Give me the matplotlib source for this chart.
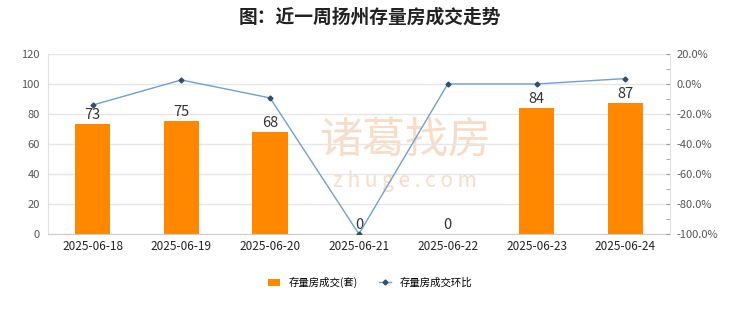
import numpy as np
import matplotlib.pyplot as plt
from matplotlib.ticker import MultipleLocator, FuncFormatter

plt.rcParams['font.family'] = ['Noto Sans CJK SC', 'DejaVu Sans']

dates = ['2025-06-18', '2025-06-19', '2025-06-20', '2025-06-21',
         '2025-06-22', '2025-06-23', '2025-06-24']
deals = [73, 75, 68, 0, 0, 84, 87]
ratio = [-14.1, 2.7, -9.3, -100.0, 0.0, 0.0, 3.6]


def main():
	fig = plt.figure(figsize=(7.4, 3.12), dpi=100)
	ax = fig.add_axes([0.065, 0.25, 0.84, 0.577])
	x = np.arange(len(dates))

	ax.bar(x, deals, width=0.4, color='#FF8800', zorder=2, label='存量房成交(套)')
	for xi, v in zip(x, deals):
		ax.text(xi, v + 1.5, str(v), ha='center', va='bottom', fontsize=10.5, color='#333333', zorder=5)

	ax.set_ylim(0, 120)
	ax.set_xlim(-0.5, len(dates) - 0.5)
	ax.yaxis.set_major_locator(MultipleLocator(20))
	ax.grid(axis='y', color='#e6e6e6', linewidth=1, zorder=0)
	ax.set_xticks(x)
	ax.set_xticklabels(dates)
	ax.tick_params(axis='x', length=0, labelsize=8.5, colors='#222222', pad=4)
	ax.tick_params(axis='y', length=0, labelsize=8, colors='#555555', pad=6)
	for s in ['top', 'right']:
		ax.spines[s].set_visible(False)
	ax.spines['left'].set_color('#e0e0e0')
	ax.spines['bottom'].set_color('#cccccc')

	# watermark, behind the bars
	ax.text(0.547, 0.548, '诸葛找房', transform=fig.transFigure, ha='center', va='center',
		fontsize=31, color='#f9dcc6', zorder=1)
	ax.text(0.547, 0.42, 'z h u g e . c o m', transform=fig.transFigure, ha='center', va='center',
		fontsize=15, color='#f9dcc6', zorder=1)

	ax2 = ax.twinx()
	ax2.plot(x, ratio, color='#6fa0d0', linewidth=1, marker='D', markersize=2.5,
		markerfacecolor='#2f4f6f', markeredgecolor='#2f4f6f', zorder=4, label='存量房成交环比')
	ax2.set_ylim(-100, 20)
	ax2.yaxis.set_major_locator(MultipleLocator(20))
	ax2.yaxis.set_minor_locator(MultipleLocator(10))
	ax2.yaxis.set_major_formatter(FuncFormatter(lambda v, p: '%.1f%%' % v))
	ax2.tick_params(axis='y', which='both', direction='in', length=3, color='#999999',
		labelsize=8, labelcolor='#555555', pad=5)
	for s in ['top', 'left', 'bottom']:
		ax2.spines[s].set_visible(False)
	ax2.spines['right'].set_color('#e0e0e0')

	fig.suptitle('图：近一周扬州存量房成交走势', x=0.5, y=0.975, fontsize=13.5,
		fontweight='bold', color='#222222')

	h1, l1 = ax.get_legend_handles_labels()
	h2, l2 = ax2.get_legend_handles_labels()
	fig.legend(h1 + h2, l1 + l2, loc='center', bbox_to_anchor=(0.5, 0.095), ncol=2,
		frameon=False, fontsize=7.5, handlelength=1.2, handleheight=0.7, columnspacing=2)

	fig.savefig('out.png', dpi=100)


if __name__ == '__main__':
	main()
